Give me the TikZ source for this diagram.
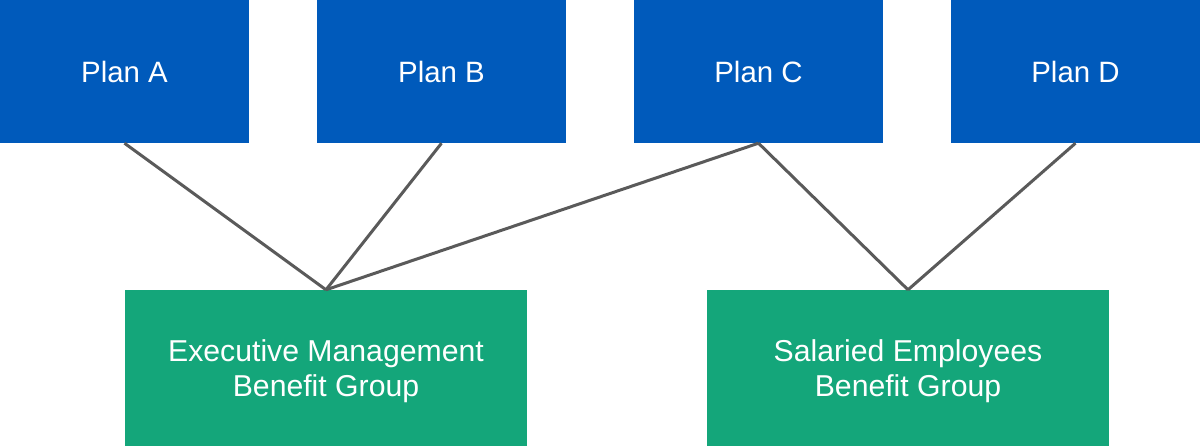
\documentclass[tikz,border=0pt]{standalone}
\usepackage{fontspec}
\setmainfont{Liberation Sans}
\definecolor{planblue}{RGB}{0,90,187}
\definecolor{groupgreen}{RGB}{20,166,122}
\definecolor{linegray}{RGB}{90,90,90}
\begin{document}
\begin{tikzpicture}[x=1pt,y=-1pt,
  plan/.style={fill=planblue,draw=none,minimum width=249pt,minimum height=143pt,inner sep=0pt,text=white,font=\fontsize{29.4}{35}\selectfont},
  grp/.style={fill=groupgreen,draw=none,minimum width=402pt,minimum height=157pt,inner sep=0pt},
  grptext/.style={text=white,align=center,inner sep=0pt,font=\fontsize{30.2}{35}\selectfont},
  link/.style={draw=linegray,line width=3pt}]
\useasboundingbox (0,0) rectangle (1200,446);
\node[plan] (A) at (124.5,71.5) {\raisebox{-2pt}{Plan A}};
\node[plan] (B) at (441.5,71.5) {\raisebox{-2pt}{Plan B}};
\node[plan] (C) at (758.5,71.5) {\raisebox{-2pt}{Plan C}};
\node[plan] (D) at (1075.5,71.5) {\raisebox{-2pt}{Plan D}};
\node[grp] (E) at (326,368.5) {};
\node[grp] (S) at (908,368.5) {};
\node[grptext] (Et) at (326,371) {Executive Management\\Benefit Group};
\node[grptext] (St) at (908,371) {Salaried Employees\\Benefit Group};
\draw[link] (A.south) -- (E.north);
\draw[link] (B.south) -- (E.north);
\draw[link] (C.south) -- (E.north);
\draw[link] (C.south) -- (S.north);
\draw[link] (D.south) -- (S.north);
\end{tikzpicture}
\end{document}
